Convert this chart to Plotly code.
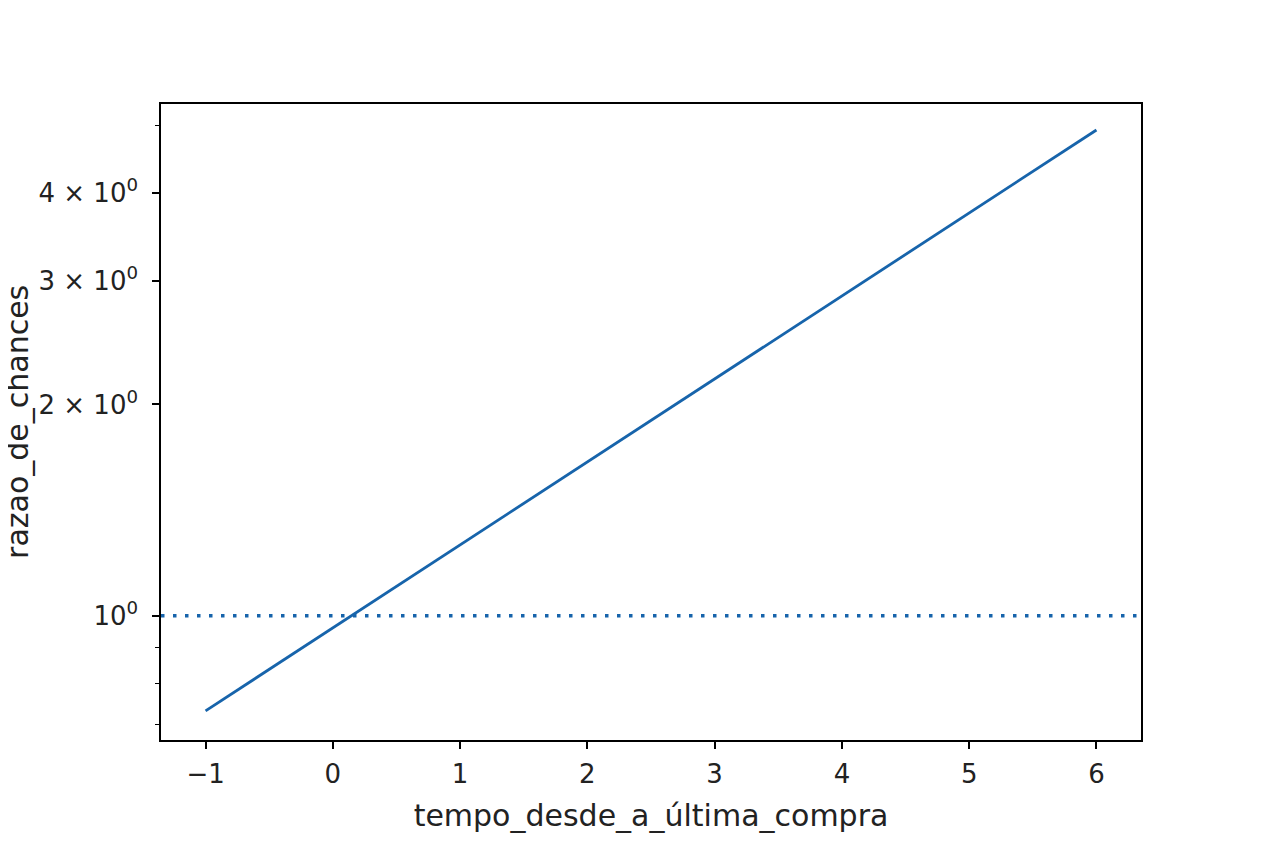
import plotly.graph_objects as go

# dados (eixo y em escala log)
tempo = [-1, 6]
razao_de_chances = [0.732, 4.92]
referencia = 1.0

x_ticks = [-1, 0, 1, 2, 3, 4, 5, 6]
x_labels = ["\u22121", "0", "1", "2", "3", "4", "5", "6"]
y_ticks = [1, 2, 3, 4]
y_labels = ["10<sup>0</sup>", "2 \u00d7 10<sup>0</sup>", "3 \u00d7 10<sup>0</sup>", "4 \u00d7 10<sup>0</sup>"]
y_minor = [0.6, 0.7, 0.8, 0.9, 5, 6]

cor = "#1764ab"

fig = go.Figure()
fig.add_trace(go.Scatter(x=tempo, y=razao_de_chances, mode="lines",
                         line=dict(color=cor, width=2.8), showlegend=False))

fig.add_shape(type="line", xref="paper", yref="y", x0=0, x1=1,
              y0=referencia, y1=referencia,
              line=dict(color=cor, width=3.5, dash="3.5px,8.5px"))

# título do eixo y como anotação (posição fixa à esquerda)
fig.add_annotation(text="razao_de_chances", xref="paper", yref="paper",
                   x=-0.147, y=0.5, xanchor="center", yanchor="middle",
                   textangle=-90, showarrow=False,
                   font=dict(family="DejaVu Sans", size=30, color="#222"))

fig.update_layout(
    width=1264, height=843,
    margin=dict(l=153, r=131, t=96, b=111),
    plot_bgcolor="white", paper_bgcolor="white",
    font=dict(family="DejaVu Sans", size=25, color="#222"),
)
fig.update_xaxes(
    range=[-1.35, 6.35], tickmode="array", tickvals=x_ticks, ticktext=x_labels,
    tickfont=dict(size=26), ticklabelstandoff=3, automargin=False,
    showgrid=False, zeroline=False, showline=True, mirror=True,
    linecolor="black", linewidth=1.5, ticks="outside", ticklen=7,
    tickcolor="black", tickwidth=1.5,
    title=dict(text="tempo_desde_a_última_compra", standoff=17),
)
fig.update_yaxes(
    type="log", range=[-0.177, 0.729], tickmode="array",
    tickvals=y_ticks, ticktext=y_labels, tickfont=dict(size=26),
    ticklabelstandoff=9, automargin=False,
    showgrid=False, zeroline=False, showline=True, mirror=True,
    linecolor="black", linewidth=1.5, ticks="outside", ticklen=7,
    tickcolor="black", tickwidth=1.5,
    minor=dict(tickmode="array", tickvals=y_minor, ticks="outside",
               ticklen=4, tickcolor="black", tickwidth=1.2, showgrid=False),
)

fig.write_html("out.html")
